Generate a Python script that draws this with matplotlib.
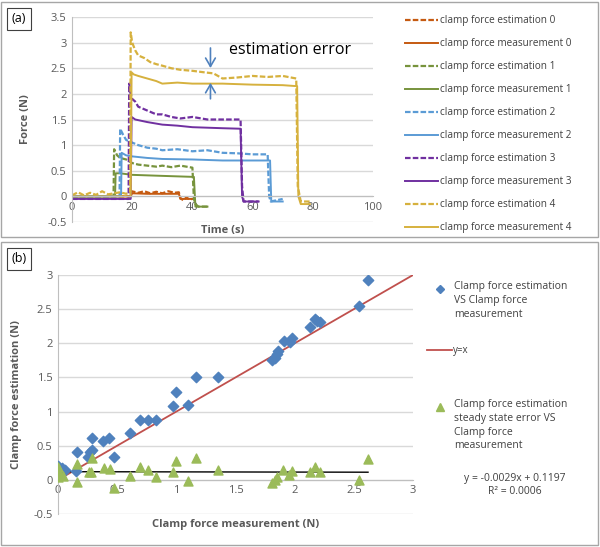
import matplotlib.pyplot as plt
from matplotlib.lines import Line2D
from matplotlib.patches import Rectangle
import numpy as np

plt.rcParams['font.family'] = ['Open Sans', 'DejaVu Sans']

# ---- panel (a): time series, breakpoints ----
est0_t = [0, 19.5, 19.8, 22, 24, 26, 28, 30, 32, 34, 35.5, 36, 37, 38, 39, 40]
est0_f = [0.0, 0.0, 0.1, 0.07, 0.1, 0.06, 0.09, 0.06, 0.1, 0.07, 0.08, -0.03, -0.08, -0.02, -0.06, -0.05]
meas0_t = [0, 19.5, 20, 25, 30, 35.5, 36, 40]
meas0_f = [0.0, 0.0, 0.06, 0.05, 0.05, 0.05, -0.05, -0.05]

est1_t = [0, 13.8, 14, 15, 16, 18, 20, 22, 25, 28, 30, 33, 36, 40, 40.5, 41, 42, 45]
est1_f = [0.0, 0.0, 0.92, 0.8, 0.75, 0.72, 0.65, 0.62, 0.6, 0.58, 0.6, 0.57, 0.6, 0.56, -0.05, -0.15, -0.2, -0.2]
meas1_t = [0, 14.3, 14.5, 16, 20, 30, 40.5, 41, 45]
meas1_f = [0.0, 0.0, 0.45, 0.45, 0.42, 0.4, 0.38, -0.2, -0.2]

est2_t = [0, 15.8, 16, 17, 18, 20, 22, 25, 28, 30, 35, 40, 45, 50, 55, 60, 65, 65.5, 66, 70]
est2_f = [0.0, 0.0, 1.32, 1.2, 1.1, 1.05, 1.0, 0.95, 0.93, 0.9, 0.92, 0.88, 0.9, 0.85, 0.84, 0.82, 0.82, 0.0, -0.1, -0.05]
meas2_t = [0, 16.3, 16.5, 18, 20, 25, 30, 40, 50, 60, 65.8, 66.2, 70]
meas2_f = [0.0, 0.0, 0.85, 0.8, 0.78, 0.75, 0.73, 0.72, 0.7, 0.7, 0.7, -0.1, -0.1]

est3_t = [0, 18.8, 19, 19.5, 20, 21, 22, 24, 26, 28, 30, 33, 36, 40, 45, 50, 56, 56.5, 57, 62]
est3_f = [-0.05, -0.05, 2.2, 2.0, 1.9, 1.85, 1.75, 1.7, 1.65, 1.6, 1.6, 1.55, 1.52, 1.55, 1.5, 1.5, 1.5, 0.2, -0.1, -0.1]
meas3_t = [0, 19.5, 19.8, 21, 25, 30, 35, 40, 50, 56, 56.5, 57, 62]
meas3_f = [-0.05, -0.05, 1.55, 1.5, 1.45, 1.4, 1.38, 1.35, 1.33, 1.32, 0.0, -0.1, -0.1]

est4_t = [0, 2, 4, 6, 8, 10, 12, 14, 16, 18, 19.3, 19.5, 20, 21, 22, 24, 26, 28, 30, 33, 36, 40,
          44, 47, 50, 55, 60, 65, 70, 74.5, 75, 76, 79]
est4_f = [0.02, 0.08, 0.02, 0.07, 0.03, 0.1, 0.04, 0.06, 0.08, 0.05, 0.08, 3.2, 3.0, 2.85, 2.75, 2.7,
          2.62, 2.58, 2.55, 2.5, 2.47, 2.45, 2.42, 2.4, 2.3, 2.32, 2.35, 2.33, 2.35, 2.3, 0.2, -0.1, -0.1]
meas4_t = [0, 19.5, 19.8, 20.5, 22, 25, 28, 30, 35, 40, 50, 60, 70, 74.8, 75.2, 76, 79]
meas4_f = [0.0, 0.0, 2.42, 2.38, 2.35, 2.3, 2.25, 2.2, 2.22, 2.2, 2.2, 2.18, 2.17, 2.15, 0.0, -0.15, -0.15]

series = [(est0_t, est0_f, meas0_t, meas0_f),
          (est1_t, est1_f, meas1_t, meas1_f),
          (est2_t, est2_f, meas2_t, meas2_f),
          (est3_t, est3_f, meas3_t, meas3_f),
          (est4_t, est4_f, meas4_t, meas4_f)]
colors = ['#C55A11', '#77933C', '#5B9BD5', '#7030A0', '#D6B13E']

# ---- panel (b): scatter ----
est_x = [0, 0.03, 0.06, 0.15, 0.16, 0.25, 0.27, 0.29, 0.29, 0.38, 0.43, 0.47, 0.61, 0.69, 0.76, 0.83,
         0.97, 1.0, 1.1, 1.17, 1.35, 1.81, 1.83, 1.85, 1.86, 1.91, 1.96, 1.98, 2.13, 2.17, 2.19, 2.21,
         2.54, 2.62]
est_y = [0.2, 0.17, 0.15, 0.13, 0.41, 0.34, 0.41, 0.44, 0.61, 0.57, 0.61, 0.34, 0.68, 0.88, 0.88, 0.88,
         1.08, 1.28, 1.1, 1.5, 1.5, 1.76, 1.79, 1.85, 1.88, 2.04, 2.02, 2.08, 2.24, 2.36, 2.33, 2.31,
         2.55, 2.92]
err_x = [0, 0.01, 0, 0.04, 0.16, 0.16, 0.26, 0.29, 0.28, 0.39, 0.44, 0.47, 0.61, 0.69, 0.76, 0.83,
         0.97, 1.0, 1.1, 1.17, 1.35, 1.81, 1.83, 1.85, 1.9, 1.95, 1.98, 2.13, 2.17, 2.21, 2.54, 2.62]
err_y = [0.19, 0.1, 0.04, 0.05, 0.23, -0.03, 0.12, 0.32, 0.11, 0.18, 0.16, -0.12, 0.06, 0.19, 0.14, 0.04,
         0.11, 0.28, -0.01, 0.32, 0.15, -0.04, 0.0, 0.04, 0.14, 0.07, 0.13, 0.11, 0.19, 0.11, 0.0, 0.3]
trend_slope = -0.0029
trend_icpt = 0.1197

fig = plt.figure(figsize=(6, 5.47), dpi=100)

# panel frames
fig.add_artist(Rectangle((1 / 600, 1 - 237 / 547), 597 / 600, 235 / 547, transform=fig.transFigure,
                         fill=False, edgecolor='#A6A6A6', lw=1))
fig.add_artist(Rectangle((1 / 600, 2 / 547), 597 / 600, 303 / 547, transform=fig.transFigure,
                         fill=False, edgecolor='#A6A6A6', lw=1))
for lab, ytop in [('(a)', 5), ('(b)', 245)]:
    fig.text(19 / 600, 1 - (ytop + 14) / 547, lab, ha='center', va='center', fontsize=9,
             bbox=dict(boxstyle='square,pad=0.35', fc='white', ec='#404040', lw=0.8))

gray = '#595959'

# ----- top axes -----
ax1 = fig.add_axes([72 / 600, 325 / 547, 301 / 600, 205 / 547])
handles = []
for i, (et, ef, mt, mf) in enumerate(series):
    h1, = ax1.plot(et, ef, color=colors[i], lw=1.6, ls=(0, (2.5, 1)),
                   label='clamp force estimation %d' % i)
    h2, = ax1.plot(mt, mf, color=colors[i], lw=1.4, label='clamp force measurement %d' % i)
    handles += [h1, h2]
ax1.set_xlim(0, 100)
ax1.set_ylim(-0.5, 3.5)
ax1.set_xticks(np.arange(0, 101, 20))
ax1.set_yticks(np.arange(-0.5, 3.51, 0.5))
ax1.set_yticklabels(['-0.5', '0', '0.5', '1', '1.5', '2', '2.5', '3', '3.5'])
ax1.grid(axis='y', color='#D9D9D9', lw=1)
ax1.set_axisbelow(True)
for s in ['top', 'right']:
    ax1.spines[s].set_visible(False)
ax1.spines['left'].set_color('#BFBFBF')
ax1.spines['bottom'].set_color('#BFBFBF')
ax1.spines['bottom'].set_position(('data', 0))
ax1.tick_params(length=0, labelsize=8, labelcolor=gray, pad=4)
ax1.set_xlabel('Time (s)', fontsize=8, fontweight='bold', color=gray)
ax1.xaxis.set_label_coords(0.5, -0.015)
ax1.set_ylabel('Force (N)', fontsize=8, fontweight='bold', color=gray)
ax1.yaxis.set_label_coords(-0.135, 0.5)

# estimation error arrows
arrow_col = '#4F81BD'
ax1.annotate('', xy=(46, 2.45), xytext=(46, 2.95),
             arrowprops=dict(arrowstyle='->,head_length=0.6,head_width=0.35', color=arrow_col, lw=1.2))
ax1.annotate('', xy=(46, 2.27), xytext=(46, 1.85),
             arrowprops=dict(arrowstyle='->,head_length=0.6,head_width=0.35', color=arrow_col, lw=1.2))
ax1.text(52, 2.85, 'estimation error', fontsize=11.5, va='center', ha='left', color='black')

fig.legend(handles=handles, loc='upper left', bbox_to_anchor=(396 / 600, 1 - 6 / 547),
           frameon=False, fontsize=7.2, labelspacing=1.2, handlelength=3.3, handletextpad=0.15,
           labelcolor='#404040')

# ----- bottom axes -----
ax2 = fig.add_axes([58 / 600, 33 / 547, 355 / 600, 239 / 547])
ax2.plot([0.05, 3], [0.05, 3], color='#C0504D', lw=1.3, zorder=2)
ax2.scatter(est_x, est_y, marker='D', s=28, color='#4F81BD', zorder=3)
ax2.scatter(err_x, err_y, marker='^', s=42, color='#9BBB59', zorder=3)
tx = np.array([0, 2.62])
ax2.plot(tx, trend_slope * tx + trend_icpt, color='black', lw=1, zorder=2)
ax2.set_xlim(0, 3)
ax2.set_ylim(-0.5, 3)
ax2.set_xticks(np.arange(0, 3.01, 0.5))
ax2.set_xticklabels(['0', '0.5', '1', '1.5', '2', '2.5', '3'])
ax2.set_yticks(np.arange(-0.5, 3.01, 0.5))
ax2.set_yticklabels(['-0.5', '0', '0.5', '1', '1.5', '2', '2.5', '3'])
ax2.grid(axis='y', color='#D9D9D9', lw=1)
ax2.set_axisbelow(True)
for s in ['top', 'right']:
    ax2.spines[s].set_visible(False)
ax2.spines['left'].set_color('#BFBFBF')
ax2.spines['bottom'].set_color('#BFBFBF')
ax2.spines['bottom'].set_position(('data', 0))
ax2.tick_params(length=0, labelsize=8, labelcolor=gray, pad=4)
ax2.set_xlabel('Clamp force measurement (N)', fontsize=8, fontweight='bold', color=gray)
ax2.xaxis.set_label_coords(0.5, -0.02)
ax2.set_ylabel('Clamp force estimation (N)', fontsize=8, fontweight='bold', color=gray)
ax2.yaxis.set_label_coords(-0.10, 0.5)

# bottom legend (drawn by hand)
def fx(px):
    return px / 600


def fy(py):
    return 1 - py / 547


fig.add_artist(Line2D([fx(440)], [fy(289)], marker='D', ms=4, color='#4F81BD', lw=0,
                      transform=fig.transFigure))
fig.text(fx(454), fy(281), 'Clamp force estimation\nVS Clamp force\nmeasurement', fontsize=7.5,
         va='top', ha='left', color='#404040', linespacing=1.35)
fig.add_artist(Line2D([fx(427), fx(452)], [fy(350), fy(350)], color='#C0504D', lw=1.3,
                      transform=fig.transFigure))
fig.text(fx(453), fy(350), 'y=x', fontsize=7, va='center', ha='left', color='#404040')
fig.add_artist(Line2D([fx(440)], [fy(407)], marker='^', ms=6, color='#9BBB59', lw=0,
                      transform=fig.transFigure))
fig.text(fx(454), fy(399), 'Clamp force estimation\nsteady state error VS\nClamp force\nmeasurement',
         fontsize=7.5, va='top', ha='left', color='#404040', linespacing=1.35)
fig.text(fx(515), fy(485), 'y = -0.0029x + 0.1197\nR\u00b2 = 0.0006', fontsize=7.5, va='center',
         ha='center', color='#404040', linespacing=1.3)

fig.savefig('out.png', dpi=100)
